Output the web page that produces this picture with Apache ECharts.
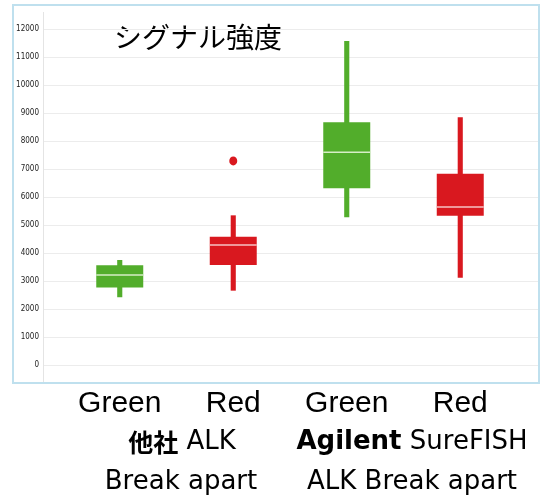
<!DOCTYPE html>
<html>
<head>
<meta charset="utf-8">
<script src="https://cdn.jsdelivr.net/npm/echarts@6/dist/echarts.min.js"></script>
<style>
html,body{margin:0;padding:0;background:#fff;}
#chart{width:545px;height:500px;}
</style>
</head>
<body>
<div id="chart"></div>
<script>
var categories = ['Green', 'Red', 'Green', 'Red'];
var whiskerLow = [2420, 2655, 5274, 3119];
var q1 = [2770, 3571, 6310, 5333];
var medians = [3210, 4286, 7595, 5643];
var q3 = [3560, 4583, 8667, 6833];
var whiskerHigh = [3750, 5345, 11571, 8845];
var outliers = [[1, 7290]];
var yTicks = [0, 1000, 2000, 3000, 4000, 5000, 6000, 7000, 8000, 9000, 10000, 11000, 12000];

var GREEN = '#52ad2b', RED = '#d9181f';
var boxColors = [GREEN, RED, GREEN, RED];
var medColors = ['#d6eec6', '#f6c2c4', '#d6eec6', '#f6c2c4'];

var boxData = categories.map(function (c, i) {
  return [i, whiskerLow[i], q1[i], medians[i], q3[i], whiskerHigh[i]];
});

var chart = echarts.init(document.getElementById('chart'), null, {renderer: 'canvas'});

function renderBox(params, api) {
  var i = api.value(0);
  var bw = api.size([1, 0])[0];
  var boxW = bw * 0.414;
  var wW = bw * 0.045;
  var pLow = api.coord([i, api.value(1)]);
  var pQ1 = api.coord([i, api.value(2)]);
  var pMed = api.coord([i, api.value(3)]);
  var pQ3 = api.coord([i, api.value(4)]);
  var pHigh = api.coord([i, api.value(5)]);
  var col = boxColors[i];
  return {
    type: 'group',
    children: [
      {type: 'rect', shape: {x: pHigh[0] - wW / 2, y: pHigh[1], width: wW, height: pLow[1] - pHigh[1]}, style: {fill: col}},
      {type: 'rect', shape: {x: pQ3[0] - boxW / 2, y: pQ3[1], width: boxW, height: pQ1[1] - pQ3[1]}, style: {fill: col}},
      {type: 'line', shape: {x1: pMed[0] - boxW / 2, y1: pMed[1], x2: pMed[0] + boxW / 2, y2: pMed[1]}, style: {stroke: medColors[i], lineWidth: 1.5}}
    ]
  };
}

var option = {
  backgroundColor: '#fff',
  animation: false,
  grid: [
    {left: 43, right: 6, top: 29, height: 336},
    {left: 63, width: 454, top: 29, height: 336}
  ],
  xAxis: [
    {gridIndex: 0, type: 'category', data: categories, show: false},
    {gridIndex: 1, type: 'category', data: categories,
      axisLine: {show: false}, axisTick: {show: false},
      axisLabel: {margin: 24, fontSize: 30, color: '#000', fontFamily: 'Liberation Sans'}}
  ],
  yAxis: [
    {gridIndex: 0, type: 'value', min: yTicks[0], max: yTicks[yTicks.length - 1], interval: 1000,
      axisLine: {show: false}, axisTick: {show: false},
      axisLabel: {fontSize: 8, color: '#222', margin: 4, fontFamily: 'DejaVu Sans Condensed',
        formatter: function (v) { return String(v); }},
      splitLine: {lineStyle: {color: '#ececec', width: 1}}},
    {gridIndex: 1, type: 'value', min: yTicks[0], max: yTicks[yTicks.length - 1], interval: 1000, show: false, splitLine: {show: false}}
  ],
  graphic: [
    {type: 'rect', shape: {x: 13, y: 5, width: 526, height: 378}, style: {fill: 'none', stroke: '#bfe0ee', lineWidth: 2}, z: 100},
    {type: 'line', shape: {x1: 43.5, y1: 12, x2: 43.5, y2: 382}, style: {stroke: '#e4e4e4', lineWidth: 1}, z: 1},
    {type: 'text', x: 198, y: 37, style: {text: 'シグナル強度', font: '28px "Noto Sans CJK JP"', fill: '#000', textAlign: 'center', textVerticalAlign: 'middle'}},
    {type: 'text', x: 182, y: 442, style: {text: '{b|他社}{n| ALK}', textAlign: 'center', textVerticalAlign: 'middle',
      rich: {b: {fontSize: 25, fontWeight: 'bold', fontFamily: 'Noto Sans CJK JP', color: '#000'},
             n: {fontSize: 26, fontFamily: 'DejaVu Sans', color: '#000'}}}},
    {type: 'text', x: 181, y: 482, style: {text: 'Break apart', font: '26px "DejaVu Sans"', fill: '#000', textAlign: 'center', textVerticalAlign: 'middle'}},
    {type: 'text', x: 412, y: 442, style: {text: '{b|Agilent}{n| SureFISH}', textAlign: 'center', textVerticalAlign: 'middle',
      rich: {b: {fontSize: 26, fontWeight: 'bold', fontFamily: 'DejaVu Sans', color: '#000'},
             n: {fontSize: 26, fontFamily: 'DejaVu Sans', color: '#000'}}}},
    {type: 'text', x: 412, y: 482, style: {text: 'ALK Break apart', font: '26px "DejaVu Sans"', fill: '#000', textAlign: 'center', textVerticalAlign: 'middle'}}
  ],
  series: [
    {type: 'custom', xAxisIndex: 1, yAxisIndex: 1, renderItem: renderBox, data: boxData, encode: {x: 0, y: [1, 2, 3, 4, 5]}, z: 5},
    {type: 'scatter', xAxisIndex: 1, yAxisIndex: 1, data: outliers, symbol: 'circle', symbolSize: [8, 9], itemStyle: {color: RED, opacity: 1}, z: 6}
  ]
};
chart.setOption(option);
</script>
</body>
</html>
